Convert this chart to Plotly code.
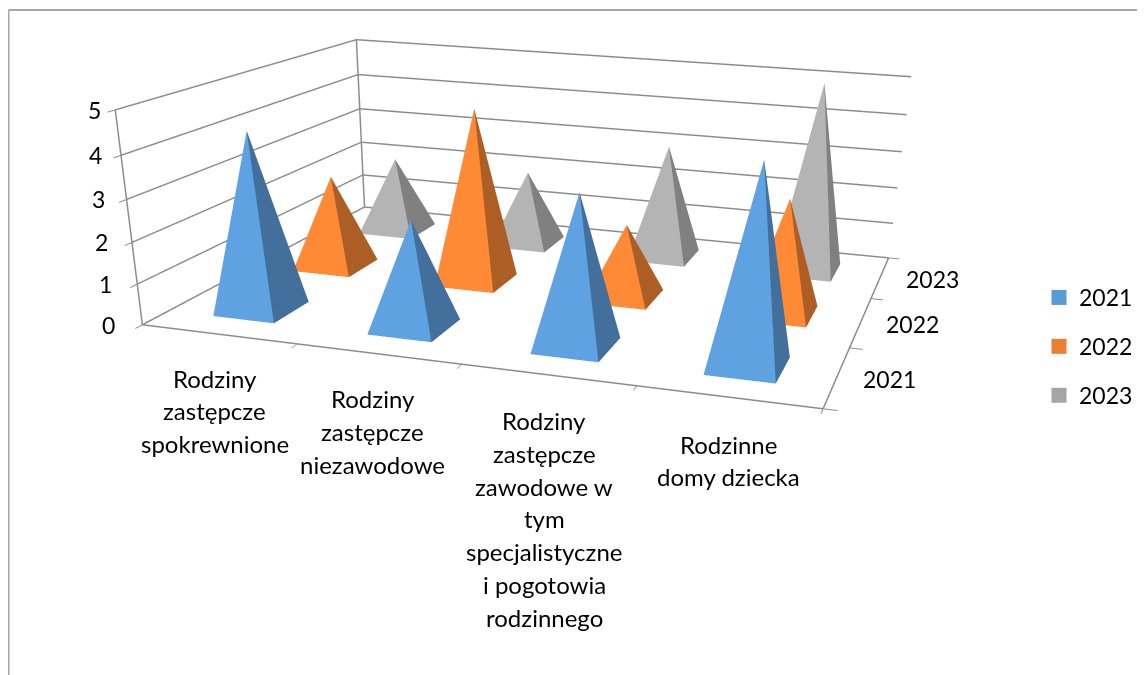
import plotly.graph_objects as go

categories = ["Rodziny zastępcze spokrewnione", "Rodziny zastępcze niezawodowe",
              "Rodziny zastępcze zawodowe w tym specjalistyczne i pogotowia rodzinnego",
              "Rodzinne domy dziecka"]
category_lines = [["Rodziny", "zastępcze", "spokrewnione"],
                  ["Rodziny", "zastępcze", "niezawodowe"],
                  ["Rodziny", "zastępcze", "zawodowe w", "tym", "specjalistyczne", "i pogotowia", "rodzinnego"],
                  ["Rodzinne", "domy dziecka"]]
series_names = ["2021", "2022", "2023"]
values_2021 = [4.33, 2.6, 3.6, 4.65]
values_2022 = [2.4, 4.45, 1.87, 2.9]
values_2023 = [2.05, 2.0, 3.05, 5.0]
z_ticks = [0, 1, 2, 3, 4, 5]

front_colors = ["#5fa2e2", "#ff8a36", "#b4b4b4"]
side_colors = ["#426f9c", "#ad5e24", "#808080"]
legend_colors = ["#5b9bd5", "#ed7d31", "#a5a5a5"]
FONT = "Lato"
TXT = "#000000"
GRID = "#8c8c8c"
H = 1200
hw, hd = 0.2, 0.22

fig = go.Figure()
for j, vals in enumerate([values_2021, values_2022, values_2023]):
    for i, v in enumerate(vals):
        cx, cy = i + 0.5, j + 0.5
        fig.add_trace(go.Mesh3d(
            x=[cx - hw, cx + hw, cx + hw, cx - hw, cx],
            y=[cy - hd, cy - hd, cy + hd, cy + hd, cy],
            z=[0, 0, 0, 0, v],
            i=[0, 1, 2, 3], j=[1, 2, 3, 0], k=[4, 4, 4, 4],
            facecolor=[front_colors[j], side_colors[j], side_colors[j], front_colors[j]],
            flatshading=True,
            lighting=dict(ambient=1, diffuse=0, specular=0, fresnel=0, roughness=1),
            hoverinfo="skip", showlegend=False))

frame = [([0, 4], [0, 0], [0, 0]), ([4, 4], [0, 3], [0, 0]), ([0, 4], [3, 3], [0, 0]), ([0, 0], [0, 3], [0, 0]),
         ([0, 0], [0, 0], [0, 5]), ([0, 0], [3, 3], [0, 5])]
for fx, fy, fz in frame:
    fig.add_trace(go.Scatter3d(x=fx, y=fy, z=fz, mode="lines", line=dict(color=GRID, width=3),
                               hoverinfo="skip", showlegend=False))

for name, c in zip(series_names, legend_colors):
    fig.add_trace(go.Scatter3d(x=[None], y=[None], z=[None], mode="markers", name=name, legendgroup=name,
                               marker=dict(symbol="square", size=15, color=c), showlegend=True))

ann = []
cat_dx = [-4, -6, -4, 0]
cat_dy = [44, 45, 46, 47]
for i, lines in enumerate(category_lines):
    for n, t in enumerate(lines):
        ann.append(dict(x=i + 0.5, y=0, z=0, text=t, showarrow=False, xshift=cat_dx[i],
                        yshift=-(cat_dy[i] + 32.7 * n), font=dict(family=FONT, size=24, color=TXT)))
for j, t in enumerate(series_names):
    ann.append(dict(x=4, y=j + 0.5, z=0, text=t, showarrow=False, xshift=52, yshift=-2,
                    font=dict(family=FONT, size=23, color=TXT)))
z_dx = [-34, -32, -30, -28, -25, -21]
for v, d in zip(z_ticks, z_dx):
    ann.append(dict(x=0, y=0, z=v, text=str(v), showarrow=False, xshift=d, yshift=0,
                    font=dict(family=FONT, size=23, color=TXT)))

def ax(rng, **kw):
    d = dict(range=rng, title=dict(text=""), showbackground=False, showticklabels=False, showgrid=False,
             zeroline=False, showspikes=False, showline=False, tickcolor=GRID, tickwidth=2, ticklen=10)
    d.update(kw)
    return d

fig.update_layout(
    width=1145, height=H, margin=dict(l=0, r=0, t=0, b=0), paper_bgcolor="white",
    font=dict(family=FONT, size=22, color=TXT),
    hovermode=False,
    legend=dict(x=1031 / 1145, y=1 - 268 / H, xanchor="left", yanchor="top", font=dict(size=23, family=FONT),
                tracegroupgap=16, bgcolor="rgba(0,0,0,0)"),
    scene=dict(
        domain=dict(x=[0, 1], y=[0, 1]),
        xaxis=ax([0, 4], tickvals=[0, 1, 2, 3, 4], ticks="outside"),
        yaxis=ax([0, 3], tickvals=[0, 1, 2, 3], ticks="outside"),
        zaxis=ax([0, 5], tickvals=z_ticks, ticks="outside", showgrid=True, gridcolor=GRID, gridwidth=3),
        aspectmode="manual", aspectratio=dict(x=3.308, y=2.606, z=1.0),
        camera=dict(eye=dict(x=2.298, y=-7.243, z=1.704), center=dict(x=0.250, y=-0.110, z=-2.341),
                    up=dict(x=-0.166, y=0.475, z=1), projection=dict(type="perspective")),
        annotations=ann),
    shapes=[dict(type="line", xref="paper", yref="paper", x0=0.5 / 1145, x1=1, y0=1 - 2 / H, y1=1 - 2 / H,
                 line=dict(color="#a6a6a6", width=2)),
            dict(type="line", xref="paper", yref="paper", x0=0.5 / 1145, x1=0.5 / 1145, y0=1 - 2 / H, y1=0,
                 line=dict(color="#a6a6a6", width=2))])
fig.write_html("out.html")
